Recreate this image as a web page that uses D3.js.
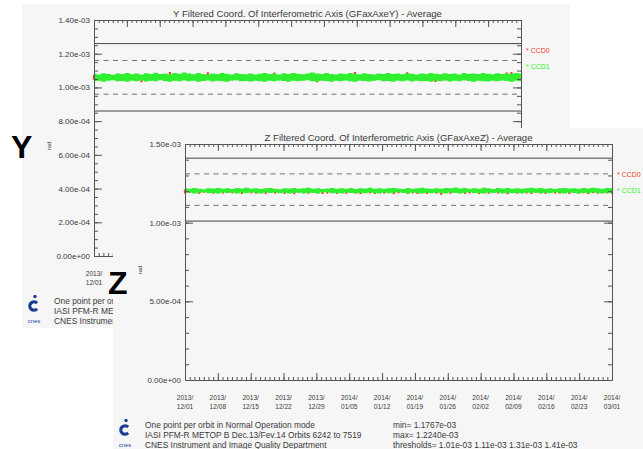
<!DOCTYPE html>
<html>
<head>
<meta charset="utf-8">
<script src="https://cdn.jsdelivr.net/npm/d3@7"></script>
<style>
  html, body { margin: 0; padding: 0; background: #ffffff; }
  svg { display: block; font-family: "Liberation Sans", Arial, sans-serif; }
</style>
</head>
<body>
<svg id="chart" width="643" height="449"></svg>
<script>
// Observation period: one sample per day, 2013-12-01 .. 2014-03-01
const startDate = new Date(2013, 11, 1);
const endDate = new Date(2014, 2, 1);

const xTickLabels = [
  "2013/12/01", "2013/12/08", "2013/12/15", "2013/12/22", "2013/12/29",
  "2014/01/05", "2014/01/12", "2014/01/19", "2014/01/26", "2014/02/02",
  "2014/02/09", "2014/02/16", "2014/02/23", "2014/03/01"
];

const seriesNames = ["CCD0", "CCD1"];

const footerLines = [
  "One point per orbit in Normal Operation mode",
  "IASI PFM-R METOP B Dec.13/Fev.14 Orbits 6242 to 7519",
  "CNES Instrument and Image Quality Department"
];

// ---- Y axis coordinate (values in 1e-3 rad): daily high / low of the per-orbit points ----
const yTitle = "Y Filtered Coord. Of Interferometric Axis (GFaxAxeY) - Average";
const yMajorTicks = [0, 0.2, 0.4, 0.6, 0.8, 1.0, 1.2, 1.4];
const yThresholds = [0.86, 0.96, 1.16, 1.26];

const yCcd1High = [
  1.081,1.077,1.084,1.079,1.075,1.083,1.080,1.086,1.078,1.082,
  1.076,1.084,1.080,1.087,1.079,1.083,1.077,1.085,1.081,1.088,
  1.082,1.078,1.085,1.080,1.076,1.083,1.079,1.086,1.081,1.077,
  1.084,1.080,1.078,1.083,1.076,1.081,1.085,1.079,1.082,1.077,
  1.084,1.080,1.086,1.081,1.078,1.083,1.088,1.082,1.079,1.085,
  1.080,1.077,1.083,1.079,1.086,1.081,1.078,1.084,1.080,1.076,
  1.082,1.079,1.085,1.080,1.083,1.078,1.084,1.081,1.077,1.083,
  1.079,1.086,1.081,1.078,1.084,1.080,1.082,1.077,1.085,1.080,
  1.083,1.079,1.086,1.081,1.078,1.084,1.080,1.083,1.079,1.085,1.082
];
const yCcd1Low = [
  1.037,1.040,1.034,1.039,1.042,1.036,1.038,1.033,1.040,1.037,
  1.041,1.035,1.039,1.036,1.042,1.038,1.034,1.040,1.037,1.041,
  1.036,1.039,1.033,1.038,1.041,1.035,1.040,1.037,1.034,1.039,
  1.042,1.036,1.038,1.035,1.040,1.037,1.033,1.039,1.036,1.041,
  1.038,1.034,1.040,1.036,1.039,1.042,1.037,1.035,1.040,1.038,
  1.033,1.039,1.036,1.041,1.037,1.034,1.040,1.038,1.035,1.039,
  1.042,1.036,1.038,1.034,1.040,1.037,1.041,1.035,1.039,1.036,
  1.038,1.033,1.040,1.037,1.041,1.035,1.039,1.036,1.042,1.038,
  1.034,1.040,1.037,1.035,1.039,1.036,1.041,1.038,1.034,1.039,1.037
];
const yCcd0High = [
  1.073,1.071,1.074,1.072,1.070,1.075,1.072,1.074,1.071,1.073,
  1.072,1.074,1.070,1.073,1.075,1.071,1.091,1.072,1.074,1.070,
  1.073,1.071,1.075,1.072,1.090,1.073,1.071,1.074,1.072,1.070,
  1.074,1.072,1.075,1.071,1.073,1.070,1.074,1.072,1.089,1.073,
  1.071,1.074,1.072,1.070,1.075,1.073,1.071,1.074,1.072,1.070,
  1.073,1.071,1.074,1.072,1.075,1.092,1.072,1.070,1.074,1.071,
  1.073,1.075,1.072,1.070,1.074,1.071,1.090,1.073,1.072,1.074,
  1.070,1.073,1.071,1.075,1.072,1.074,1.070,1.073,1.071,1.074,
  1.072,1.070,1.075,1.073,1.071,1.074,1.072,1.088,1.091,1.073,1.071
];
const yCcd0Low = [
  1.045,1.043,1.046,1.044,1.047,1.043,1.045,1.046,1.044,1.042,
  1.031,1.045,1.043,1.046,1.044,1.047,1.045,1.043,1.046,1.044,
  1.042,1.045,1.043,1.047,1.044,1.046,1.043,1.045,1.044,1.046,
  1.043,1.045,1.047,1.044,1.046,1.043,1.045,1.044,1.046,1.043,
  1.045,1.047,1.044,1.046,1.043,1.045,1.044,1.030,1.046,1.044,
  1.043,1.045,1.046,1.044,1.047,1.043,1.045,1.044,1.046,1.043,
  1.045,1.044,1.046,1.043,1.045,1.047,1.044,1.046,1.043,1.045,
  1.044,1.046,1.032,1.045,1.043,1.046,1.044,1.045,1.043,1.046,
  1.044,1.045,1.043,1.046,1.044,1.045,1.043,1.046,1.044,1.045,1.043
];

// ---- Z axis coordinate (values in 1e-3 rad) ----
const zTitle = "Z Filtered Coord. Of Interferometric Axis (GFaxAxeZ) - Average";
const zMajorTicks = [0, 0.5, 1.0, 1.5];
const zThresholds = [1.01, 1.11, 1.31, 1.41];

const zCcd1High = [
  1.218,1.215,1.220,1.216,1.213,1.219,1.217,1.221,1.215,1.218,
  1.214,1.220,1.217,1.222,1.216,1.219,1.214,1.218,1.221,1.216,
  1.213,1.219,1.217,1.220,1.215,1.218,1.222,1.216,1.219,1.214,
  1.217,1.221,1.215,1.218,1.216,1.220,1.214,1.219,1.217,1.222,
  1.216,1.219,1.215,1.218,1.221,1.217,1.214,1.220,1.216,1.219,
  1.222,1.217,1.215,1.219,1.216,1.221,1.218,1.224,1.217,1.220,
  1.215,1.219,1.216,1.222,1.218,1.214,1.220,1.217,1.221,1.216,
  1.219,1.215,1.218,1.222,1.217,1.220,1.216,1.219,1.214,1.218,
  1.221,1.217,1.219,1.215,1.220,1.217,1.222,1.218,1.216,1.221,1.219
];
const zCcd1Low = [
  1.188,1.191,1.186,1.190,1.193,1.187,1.189,1.185,1.191,1.188,
  1.192,1.186,1.190,1.187,1.193,1.189,1.185,1.191,1.188,1.192,
  1.187,1.190,1.185,1.189,1.192,1.186,1.190,1.188,1.185,1.191,
  1.193,1.187,1.189,1.186,1.191,1.188,1.185,1.190,1.187,1.192,
  1.189,1.185,1.191,1.187,1.190,1.193,1.188,1.186,1.191,1.189,
  1.185,1.190,1.187,1.192,1.188,1.185,1.191,1.189,1.186,1.190,
  1.193,1.187,1.189,1.185,1.191,1.188,1.192,1.186,1.190,1.187,
  1.189,1.185,1.191,1.188,1.192,1.186,1.190,1.187,1.193,1.189,
  1.185,1.191,1.188,1.186,1.190,1.187,1.192,1.189,1.185,1.190,1.188
];
const zCcd0High = [
  1.211,1.209,1.212,1.210,1.208,1.213,1.210,1.212,1.209,1.211,
  1.213,1.210,1.208,1.212,1.210,1.211,1.209,1.213,1.210,1.212,
  1.208,1.211,1.209,1.212,1.210,1.213,1.211,1.209,1.212,1.210,
  1.208,1.211,1.213,1.210,1.212,1.209,1.211,1.210,1.212,1.208,
  1.211,1.213,1.209,1.212,1.210,1.208,1.211,1.213,1.210,1.212,
  1.209,1.211,1.210,1.213,1.208,1.212,1.210,1.211,1.209,1.212,
  1.210,1.213,1.211,1.208,1.212,1.210,1.209,1.211,1.213,1.210,
  1.212,1.209,1.211,1.210,1.208,1.213,1.211,1.209,1.212,1.210,
  1.211,1.213,1.209,1.212,1.210,1.208,1.211,1.210,1.212,1.209,1.211
];
const zCcd0Low = [
  1.185,1.189,1.188,1.183,1.190,1.189,1.184,1.187,1.186,1.190,
  1.186,1.188,1.182,1.189,1.187,1.184,1.188,1.183,1.190,1.185,
  1.189,1.183,1.187,1.181,1.190,1.188,1.184,1.189,1.187,1.182,
  1.185,1.189,1.183,1.188,1.184,1.190,1.187,1.182,1.189,1.186,
  1.183,1.188,1.185,1.189,1.181,1.187,1.190,1.184,1.186,1.182,
  1.188,1.183,1.189,1.185,1.1767,1.188,1.184,1.190,1.187,1.183,
  1.186,1.189,1.182,1.188,1.184,1.190,1.185,1.188,1.181,1.189,
  1.184,1.188,1.186,1.182,1.189,1.187,1.183,1.190,1.186,1.184,
  1.188,1.183,1.189,1.185,1.187,1.182,1.188,1.184,1.189,1.186,1.183
];

// ---------------------------------------------------------------------------
const sampleDates = d3.timeDay.range(startDate, d3.timeDay.offset(endDate, 1));
const seriesColors = { CCD0: "#e8452c", CCD1: "#2ef02e" };
const textColor = "#3a3a3a";
const axisColor = "#555555";
const sheetW = 548, sheetH = 324;

// IDL-style exponent with two digits: 1.40e-03
const fmtExp = (v, digits) =>
  d3.format(`.${digits}e`)(v * 1e-3).replace(/e([+-])(\d)$/, "e$10$2");

const svg = d3.select("#chart");
const defs = svg.append("defs");

// cfg.cover: region (sheet coordinates) hidden under the sheet laid on top;
// the sheet is clipped to what stays visible.
function drawPanel(cfg) {
  const shown = (x0, y0) => !cfg.cover || x0 < cfg.cover.x || y0 < cfg.cover.y;
  const g = svg.append("g").attr("transform", `translate(${cfg.ox},${cfg.oy})`);
  if (cfg.cover) {
    const id = "clip-" + cfg.letter;
    const cp = defs.append("clipPath").attr("id", id);
    cp.append("rect").attr("width", sheetW).attr("height", cfg.cover.y);
    cp.append("rect").attr("width", cfg.cover.x).attr("height", sheetH);
    g.attr("clip-path", `url(#${id})`);
  }
  g.append("rect").attr("width", sheetW).attr("height", sheetH).attr("fill", "#f6f6f6");

  const L = 72, T = 16, W = 427, H = 236;
  const x = d3.scaleTime().domain([startDate, endDate]).range([L, L + W]);
  const y = d3.scaleLinear().domain([0, cfg.yMax]).range([T + H, T]);

  // title
  g.append("text").attr("x", L + W / 2).attr("y", T - 3)
    .attr("text-anchor", "middle").attr("font-size", 9.6).attr("fill", textColor)
    .text(cfg.title);

  // thresholds: outer solid, inner dashed
  cfg.thresholds.forEach((t, i) => {
    const outer = i === 0 || i === cfg.thresholds.length - 1;
    g.append("line")
      .attr("x1", L).attr("x2", L + W).attr("y1", y(t)).attr("y2", y(t))
      .attr("stroke", outer ? "#444" : "#707070").attr("stroke-width", 1)
      .attr("stroke-dasharray", outer ? null : "5,4.5");
  });

  // CCD0: per-day vertical spans
  g.append("g").selectAll("line").data(sampleDates).join("line")
    .attr("x1", d => x(d)).attr("x2", d => x(d))
    .attr("y1", (d, i) => y(cfg.ccd0Low[i])).attr("y2", (d, i) => y(cfg.ccd0High[i]))
    .attr("stroke", seriesColors.CCD0).attr("stroke-width", 2.2);

  // CCD1: daily envelope band
  const band = d3.area()
    .x((d, i) => x(sampleDates[i]))
    .y0(d => y(d[0])).y1(d => y(d[1]))
    .curve(d3.curveStep);
  g.append("path")
    .datum(cfg.ccd1Low.map((lo, i) => [lo, cfg.ccd1High[i]]))
    .attr("d", band).attr("fill", seriesColors.CCD1);

  // axes with inward ticks
  const styleAxis = sel => {
    sel.selectAll("path, line").attr("stroke", axisColor);
    sel.attr("font-family", null).attr("font-size", 8);
    sel.selectAll("text").attr("fill", textColor);
  };
  const minorY = d3.range(0, cfg.yMax + 1e-9, cfg.yMinorStep);
  g.append("g").attr("transform", `translate(${L},0)`)
    .call(d3.axisLeft(y).tickValues(minorY).tickSize(-4).tickSizeOuter(0).tickFormat(""))
    .call(styleAxis);
  g.append("g").attr("transform", `translate(${L},0)`)
    .call(d3.axisLeft(y).tickValues(cfg.majorTicks).tickSize(-8).tickSizeOuter(0)
      .tickPadding(4).tickFormat(v => fmtExp(v, 2)))
    .call(styleAxis);
  g.append("g").attr("transform", `translate(${L + W},0)`)
    .call(d3.axisRight(y).tickValues(minorY).tickSize(-4).tickSizeOuter(0).tickFormat(""))
    .call(styleAxis);
  g.append("g").attr("transform", `translate(${L + W},0)`)
    .call(d3.axisRight(y).tickValues(cfg.majorTicks).tickSize(-8).tickSizeOuter(0).tickFormat(""))
    .call(styleAxis);

  const span = endDate - startDate;
  const n = xTickLabels.length - 1;
  const majorX = d3.range(n + 1).map(i => new Date(+startDate + span * i / n));
  const minorX = d3.range(n * 7 + 1).map(i => new Date(+startDate + span * i / (n * 7)));
  [[T, d3.axisTop], [T + H, d3.axisBottom]].forEach(([ty, mk]) => {
    g.append("g").attr("transform", `translate(0,${ty})`)
      .call(mk(x).tickValues(minorX).tickSize(-3).tickSizeOuter(0).tickFormat(""))
      .call(styleAxis);
    g.append("g").attr("transform", `translate(0,${ty})`)
      .call(mk(x).tickValues(majorX).tickSize(-7).tickSizeOuter(0).tickFormat(""))
      .call(styleAxis);
  });

  // two-line date labels
  const xl = g.append("g").attr("font-size", 6.6).attr("fill", textColor).attr("text-anchor", "middle");
  majorX.forEach((d, i) => {
    if (!shown(x(d) - 8, T + H + 14)) return;
    const [yr, md] = [xTickLabels[i].slice(0, 5), xTickLabels[i].slice(5)];
    const t = xl.append("text").attr("x", x(d)).attr("y", T + H + 20);
    t.append("tspan").attr("x", x(d)).text(yr);
    t.append("tspan").attr("x", x(d)).attr("dy", 8.5).text(md);
  });

  // unit label
  g.append("text").attr("transform", `translate(29,142) rotate(-90)`)
    .attr("text-anchor", "middle").attr("font-size", 6).attr("fill", textColor).text("rad");

  // legend
  seriesNames.forEach((s, i) => {
    g.append("text").attr("x", L + W + 5).attr("y", T + 33 + i * 16)
      .attr("font-size", 7).attr("fill", seriesColors[s]).text("* " + s);
  });

  // footer
  const ft = g.append("g").attr("font-size", 8.4).attr("fill", textColor);
  footerLines.forEach((line, i) => {
    ft.append("text").attr("x", 32).attr("y", 299.5 + i * 10).text(line);
  });
  const allVals = [].concat(cfg.ccd0Low, cfg.ccd0High, cfg.ccd1Low, cfg.ccd1High);
  const stats = [
    "min= " + fmtExp(d3.min(allVals), 4),
    "max= " + fmtExp(d3.max(allVals), 4),
    "thresholds= " + cfg.thresholds.map(t => fmtExp(t, 2)).join(" ")
  ];
  if (shown(280, 292)) {
    stats.forEach((line, i) => {
      ft.append("text").attr("x", 280).attr("y", 299.5 + i * 10).text(line);
    });
  }

  // CNES logo: dot above an open "C", name below
  const logo = g.append("g").attr("transform", "translate(12,303)");
  logo.append("circle").attr("cx", 1).attr("cy", -10.5).attr("r", 1.7).attr("fill", "#1c3d8f");
  logo.append("path")
    .attr("d", d3.arc()({ innerRadius: 2.6, outerRadius: 5.8,
      startAngle: Math.PI / 2 + 0.75, endAngle: Math.PI / 2 + 2 * Math.PI - 0.75 }))
    .attr("transform", "translate(0,-1)")
    .attr("fill", "#1c3d8f");
  logo.append("text").attr("x", 0).attr("y", 15.5).attr("text-anchor", "middle")
    .attr("font-size", 6).attr("fill", "#2b4ea6").text("cnes");

  // panel letter, drawn unclipped on top of the sheet
  svg.append("text").attr("x", cfg.ox + cfg.letterX).attr("y", cfg.oy + cfg.letterY)
    .attr("font-size", 32).attr("font-weight", "bold").attr("fill", "#000").text(cfg.letter);
}

drawPanel({
  ox: 22, oy: 4, title: yTitle, yMax: 1.4, majorTicks: yMajorTicks, yMinorStep: 0.05,
  thresholds: yThresholds, ccd0High: yCcd0High, ccd0Low: yCcd0Low,
  ccd1High: yCcd1High, ccd1Low: yCcd1Low, letter: "Y", letterX: -11, letterY: 154,
  cover: { x: 91, y: 124 }
});
drawPanel({
  ox: 113, oy: 128, title: zTitle, yMax: 1.5, majorTicks: zMajorTicks, yMinorStep: 0.1,
  thresholds: zThresholds, ccd0High: zCcd0High, ccd0Low: zCcd0Low,
  ccd1High: zCcd1High, ccd1Low: zCcd1Low, letter: "Z", letterX: -5, letterY: 166
});
</script>
</body>
</html>
